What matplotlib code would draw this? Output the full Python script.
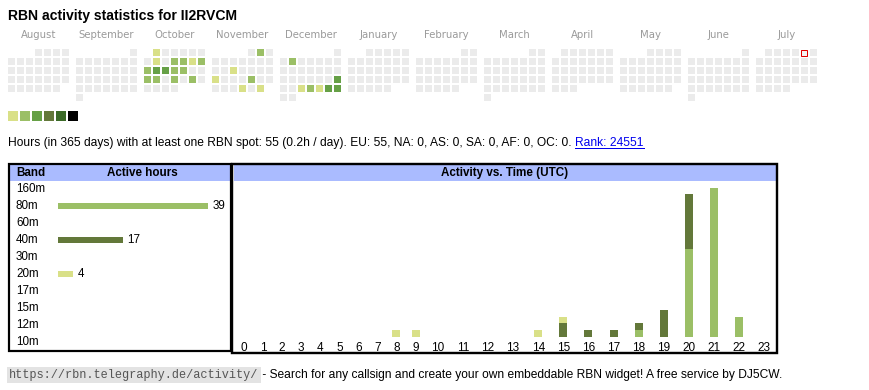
import calendar
import numpy as np
import matplotlib
matplotlib.use('Agg')
import matplotlib.pyplot as plt
from matplotlib.patches import Rectangle
import matplotlib.transforms as mtransforms

plt.rcParams['font.family'] = ['Liberation Sans', 'DejaVu Sans']

W, H = 870, 390

# ---------------- data ----------------
title = 'RBN activity statistics for II2RVCM'
months = ['August', 'September', 'October', 'November', 'December', 'January',
          'February', 'March', 'April', 'May', 'June', 'July']
month_nums = [8, 9, 10, 11, 12, 1, 2, 3, 4, 5, 6, 7]
month_years = [2024, 2024, 2024, 2024, 2024, 2025, 2025, 2025, 2025, 2025, 2025, 2025]

act_month = [10, 10, 10, 10, 10, 10, 10, 10, 10, 10, 10, 10, 10, 10, 10,
             11, 11, 11, 11, 11, 11,
             12, 12, 12, 12, 12, 12, 12]
act_day = [1, 8, 10, 11, 12, 13, 14, 15, 16, 17, 18, 21, 22, 24, 26,
           2, 13, 18, 22, 28, 30,
           3, 22, 25, 26, 27, 28, 29]
act_level = [1, 1, 2, 2, 1, 2, 2, 3, 3, 2, 2, 2, 2, 2, 2,
             2, 1, 1, 2, 1, 1,
             2, 3, 1, 2, 1, 3, 3]
today_month, today_day = 7, 5

level_colors = ['#ebebeb', '#d9e088', '#9bbf66', '#66a046', '#63783a', '#3b6a27', '#000000']

bands = ['160m', '80m', '60m', '40m', '30m', '20m', '17m', '15m', '12m', '10m']
band_hours = [0, 39, 0, 17, 0, 4, 0, 0, 0, 0]
band_colors = {'80m': '#9bbf66', '40m': '#63783a', '20m': '#d9e088'}

hours = list(range(24))
hourly_80m = [0, 0, 0, 0, 0, 0, 0, 0, 0, 0, 0, 0, 0, 0, 0, 0, 0, 0, 1, 0, 13, 22, 3, 0]
hourly_40m = [0, 0, 0, 0, 0, 0, 0, 0, 0, 0, 0, 0, 0, 0, 0, 2, 1, 1, 1, 4, 8, 0, 0, 0]
hourly_20m = [0, 0, 0, 0, 0, 0, 0, 0, 1, 1, 0, 0, 0, 0, 1, 1, 0, 0, 0, 0, 0, 0, 0, 0]
hourly_series = [('80m', hourly_80m), ('40m', hourly_40m), ('20m', hourly_20m)]

stats_text = ('Hours (in 365 days) with at least one RBN spot: 55 (0.2h / day). '
              'EU: 55, NA: 0, AS: 0, SA: 0, AF: 0, OC: 0. ')
rank_text = 'Rank: 24551'
footer_url = 'https://rbn.telegraphy.de/activity/'
footer_text = ' - Search for any callsign and create your own embeddable RBN widget! A free service by DJ5CW.'

# ---------------- figure ----------------
fig = plt.figure(figsize=(W / 100, H / 100), dpi=100)
ax = fig.add_axes([0, 0, 1, 1])
ax.set_xlim(0, W)
ax.set_ylim(H, 0)
ax.axis('off')
PX = 0.72  # points per pixel


def add_px_axes(x0, y0, x1, y1):
    a = fig.add_axes([x0 / W, 1 - y1 / H, (x1 - x0) / W, (y1 - y0) / H])
    a.set_facecolor('none')
    return a


ax.text(8, 16, title, fontsize=10.1, fontweight='bold', va='center', ha='left')

# calendar heatmap
levels = {(m, d): l for m, d, l in zip(act_month, act_day, act_level)}
cal_x0, cal_y0, cell, step, block = 8, 49, 7, 9, 68
for mi, (name, mn, yr) in enumerate(zip(months, month_nums, month_years)):
    first_wd, ndays = calendar.monthrange(yr, mn)
    bx = cal_x0 + mi * block
    ax.text(bx + (7 * step - 2) / 2, 35, name, fontsize=7.3, color='#9a9a9a',
            ha='center', va='center', family='DejaVu Sans')
    for d in range(1, ndays + 1):
        pos = first_wd + d - 1
        r, c = pos // 7, pos % 7
        lvl = levels.get((mn, d), 0)
        x, y = bx + c * step, cal_y0 + r * step
        if (mn, d) == (today_month, today_day):
            ax.add_patch(Rectangle((x + 0.5, y + 0.5), cell - 1, cell - 1, facecolor='#f4f4f4',
                                   edgecolor='#e00000', linewidth=1.0 * PX))
        else:
            ax.add_patch(Rectangle((x, y), cell, cell, facecolor=level_colors[lvl], edgecolor='none'))

# legend squares
for i, col in enumerate(level_colors[1:]):
    ax.add_patch(Rectangle((8 + i * 12, 111), 10, 10, facecolor=col, edgecolor='none'))

# stats line
t1 = ax.text(8, 146, stats_text, fontsize=8.62, va='baseline', ha='left')
fig.canvas.draw()
renderer = fig.canvas.get_renderer()
inv = ax.transData.inverted()
x_end = inv.transform((t1.get_window_extent(renderer).x1, 0))[0]
t2 = ax.text(x_end, 146, rank_text, fontsize=8.62, va='baseline', ha='left', color='#0000ee')
fig.canvas.draw()
bb = t2.get_window_extent(renderer)
rx0 = inv.transform((bb.x0, 0))[0]
rx1 = inv.transform((bb.x1, 0))[0]
ax.plot([rx0, rx1], [147.5, 147.5], color='#0000ee', linewidth=1.0 * PX)

# boxes
ax.add_patch(Rectangle((10, 165), 221, 15.5, facecolor='#aabbff', edgecolor='none'))
ax.add_patch(Rectangle((234, 165), 543, 15.5, facecolor='#aabbff', edgecolor='none'))
ax.add_patch(Rectangle((9, 164), 222.5, 187, facecolor='none', edgecolor='black', linewidth=2.2 * PX))
ax.add_patch(Rectangle((232.5, 164), 545, 189, facecolor='none', edgecolor='black', linewidth=2.4 * PX))
ax.text(16, 173, 'Band', fontsize=8.4, fontweight='bold', va='center', ha='left')
ax.text(142, 173, 'Active hours', fontsize=8.4, fontweight='bold', va='center', ha='center')
ax.text(505, 173, 'Activity vs. Time (UTC)', fontsize=8.4, fontweight='bold', va='center', ha='center')

# band bars
bax = add_px_axes(58, 180.5, 228, 350.5)
bax.set_xlim(0, max(band_hours) * 170 / 150)
bax.set_ylim(len(bands) - 0.5, -0.5)
bax.axis('off')
ypos = np.arange(len(bands))
bax.barh(ypos, band_hours, height=0.41,
         color=[band_colors.get(b, 'none') for b in bands])
for i, v in enumerate(band_hours):
    if v > 0:
        bax.annotate(str(v), (v, i), xytext=(3, 0), textcoords='offset points',
                     va='center', ha='left', fontsize=8.4)
blend = mtransforms.blended_transform_factory(ax.transData, bax.transData)
for i, b in enumerate(bands):
    ax.text(16, i, b, transform=blend, fontsize=8.4, va='center', ha='left')

# hourly stacked bars
hx0, hx1 = 234.5, 777
col_w = np.array([13 + 6.1 * len(str(h)) for h in hours])
col_w = col_w * (hx1 - hx0) / col_w.sum()
centers = np.cumsum(col_w) - col_w / 2
hax = add_px_axes(hx0, 181, hx1, 337)
hax.set_xlim(0, hx1 - hx0)
totals = np.sum([s for _, s in hourly_series], axis=0)
hax.set_ylim(0, totals.max() * 156 / 149.5)
bottom = np.zeros(len(hours))
for band, vals in hourly_series:
    vals = np.array(vals)
    hax.bar(centers, vals, width=8, bottom=bottom, color=band_colors[band], linewidth=0)
    bottom += vals
hax.set_xticks(centers)
hax.set_xticklabels([str(h) for h in hours], fontsize=8.5)
hax.tick_params(axis='x', length=0, pad=3.3)
hax.set_yticks([])
for s in hax.spines.values():
    s.set_visible(False)

# footer
f1 = ax.text(9, 378, footer_url, fontsize=8.55, family='Liberation Mono', color='#555555',
             va='baseline', ha='left',
             bbox=dict(boxstyle='square,pad=0.18', facecolor='#e3e3e3', edgecolor='none'))
fig.canvas.draw()
fx_end = inv.transform((f1.get_window_extent(renderer).x1, 0))[0]
ax.text(fx_end + 1, 378, footer_text, fontsize=8.63, va='baseline', ha='left')

fig.savefig('out.png', dpi=100)
